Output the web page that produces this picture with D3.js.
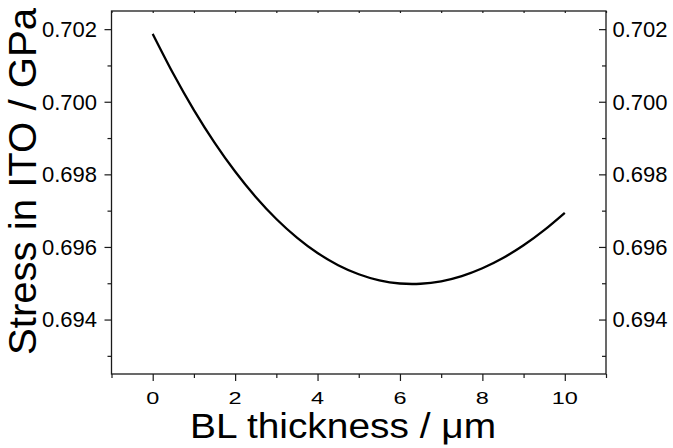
<!DOCTYPE html>
<html><head><meta charset="utf-8">
<script src="https://cdn.jsdelivr.net/npm/d3@7"></script>
<style>body{margin:0;background:#fff}svg{display:block}</style></head>
<body>
<svg id="c" width="673" height="448"></svg>
<script>
const thickness = [0,0.5,1,1.5,2,2.5,3,3.5,4,4.5,5,5.5,6,6.5,7,7.5,8,8.5,9,9.5,10];
const stress = [0.701870,0.700770,0.699771,0.698875,0.698078,0.697377,0.696771,0.696258,0.695833,0.695498,0.695248,0.695080,0.694993,0.694986,0.695054,0.695197,0.695412,0.695695,0.696046,0.696462,0.696940];
const xMajorTicks = [0,2,4,6,8,10];
const xMinorTicks = [-1,1,3,5,7,9,11];
const xTopTicks = [-1,0,1,2,3,4,5,6,7,8,9,10,11];
const yMajorTicks = [0.694,0.696,0.698,0.700,0.702];
const yMinorTicks = [0.693,0.695,0.697,0.699,0.701];
const xTitle = "BL thickness / μm";
const yTitle = "Stress in ITO / GPa";

const svg = d3.select("#c");
const L = 111.5, R = 606, T = 11, B = 374;
const x = d3.scaleLinear().domain([-1, 11]).range([L, R]);
const y = d3.scaleLinear().domain([0.6925, 0.7025]).range([B, T]);
const font = "'Liberation Sans', Arial, Helvetica, sans-serif";
const axisColor = "#1a1a1a";

function styleAxis(g) {
  g.select(".domain").remove();
  g.selectAll(".tick line").attr("stroke", axisColor).attr("stroke-width", 1.2);
}

// bottom axis major
svg.append("g").attr("transform", `translate(0,${B})`)
  .call(d3.axisBottom(x).tickValues(xMajorTicks).tickSize(7).tickFormat(""))
  .call(styleAxis);
svg.append("g").attr("transform", `translate(0,${B})`)
  .call(d3.axisBottom(x).tickValues(xMinorTicks).tickSize(4).tickFormat(""))
  .call(styleAxis);
// x tick labels (horizontally stretched as in reference)
svg.append("g").selectAll("text").data(xMajorTicks).join("text")
  .attr("transform", d => `translate(${x(d)},404) scale(1.38,1)`)
  .attr("text-anchor", "middle")
  .attr("font-family", font).attr("font-size", 17).attr("fill", "#000")
  .text(d => d3.format("d")(d));

// top axis
svg.append("g").attr("transform", `translate(0,${T})`)
  .call(d3.axisTop(x).tickValues(xTopTicks).tickSize(-2).tickFormat(""))
  .call(styleAxis);

// left axis
svg.append("g").attr("transform", `translate(${L},0)`)
  .call(d3.axisLeft(y).tickValues(yMajorTicks).tickSize(7).tickFormat(""))
  .call(styleAxis);
svg.append("g").attr("transform", `translate(${L},0)`)
  .call(d3.axisLeft(y).tickValues(yMinorTicks).tickSize(4).tickFormat(""))
  .call(styleAxis);
svg.append("g").selectAll("text").data(yMajorTicks).join("text")
  .attr("x", 97).attr("y", d => y(d) + 7.8)
  .attr("text-anchor", "end")
  .attr("font-family", font).attr("font-size", 22).attr("fill", "#000")
  .text(d => d3.format(".3f")(d));

// right axis (ticks inward)
svg.append("g").attr("transform", `translate(${R},0)`)
  .call(d3.axisLeft(y).tickValues(yMajorTicks).tickSize(7).tickFormat(""))
  .call(styleAxis);
svg.append("g").attr("transform", `translate(${R},0)`)
  .call(d3.axisLeft(y).tickValues(yMinorTicks).tickSize(4).tickFormat(""))
  .call(styleAxis);
svg.append("g").selectAll("text").data(yMajorTicks).join("text")
  .attr("x", 612.5).attr("y", d => y(d) + 7.8)
  .attr("text-anchor", "start")
  .attr("font-family", font).attr("font-size", 22).attr("fill", "#000")
  .text(d => d3.format(".3f")(d));

// frame
svg.append("rect").attr("x", L).attr("y", T).attr("width", R - L).attr("height", B - T)
  .attr("fill", "none").attr("stroke", axisColor).attr("stroke-width", 1.3);

// curve
const pts = thickness.map((t, i) => [t, stress[i]]);
svg.append("path").datum(pts)
  .attr("fill", "none").attr("stroke", "#000").attr("stroke-width", 2.3)
  .attr("stroke-linejoin", "round")
  .attr("d", d3.line().x(d => x(d[0])).y(d => y(d[1])).curve(d3.curveNatural));

// titles
svg.append("text")
  .attr("x", 190).attr("y", 438)
  .attr("font-family", font).attr("font-size", 35).attr("fill", "#000")
  .attr("textLength", 306).attr("lengthAdjust", "spacingAndGlyphs")
  .text(xTitle);
svg.append("text")
  .attr("transform", "translate(36,355) rotate(-90)")
  .attr("font-family", font).attr("font-size", 38).attr("fill", "#000")
  .attr("textLength", 347).attr("lengthAdjust", "spacingAndGlyphs")
  .text(yTitle);
</script>
</body></html>
